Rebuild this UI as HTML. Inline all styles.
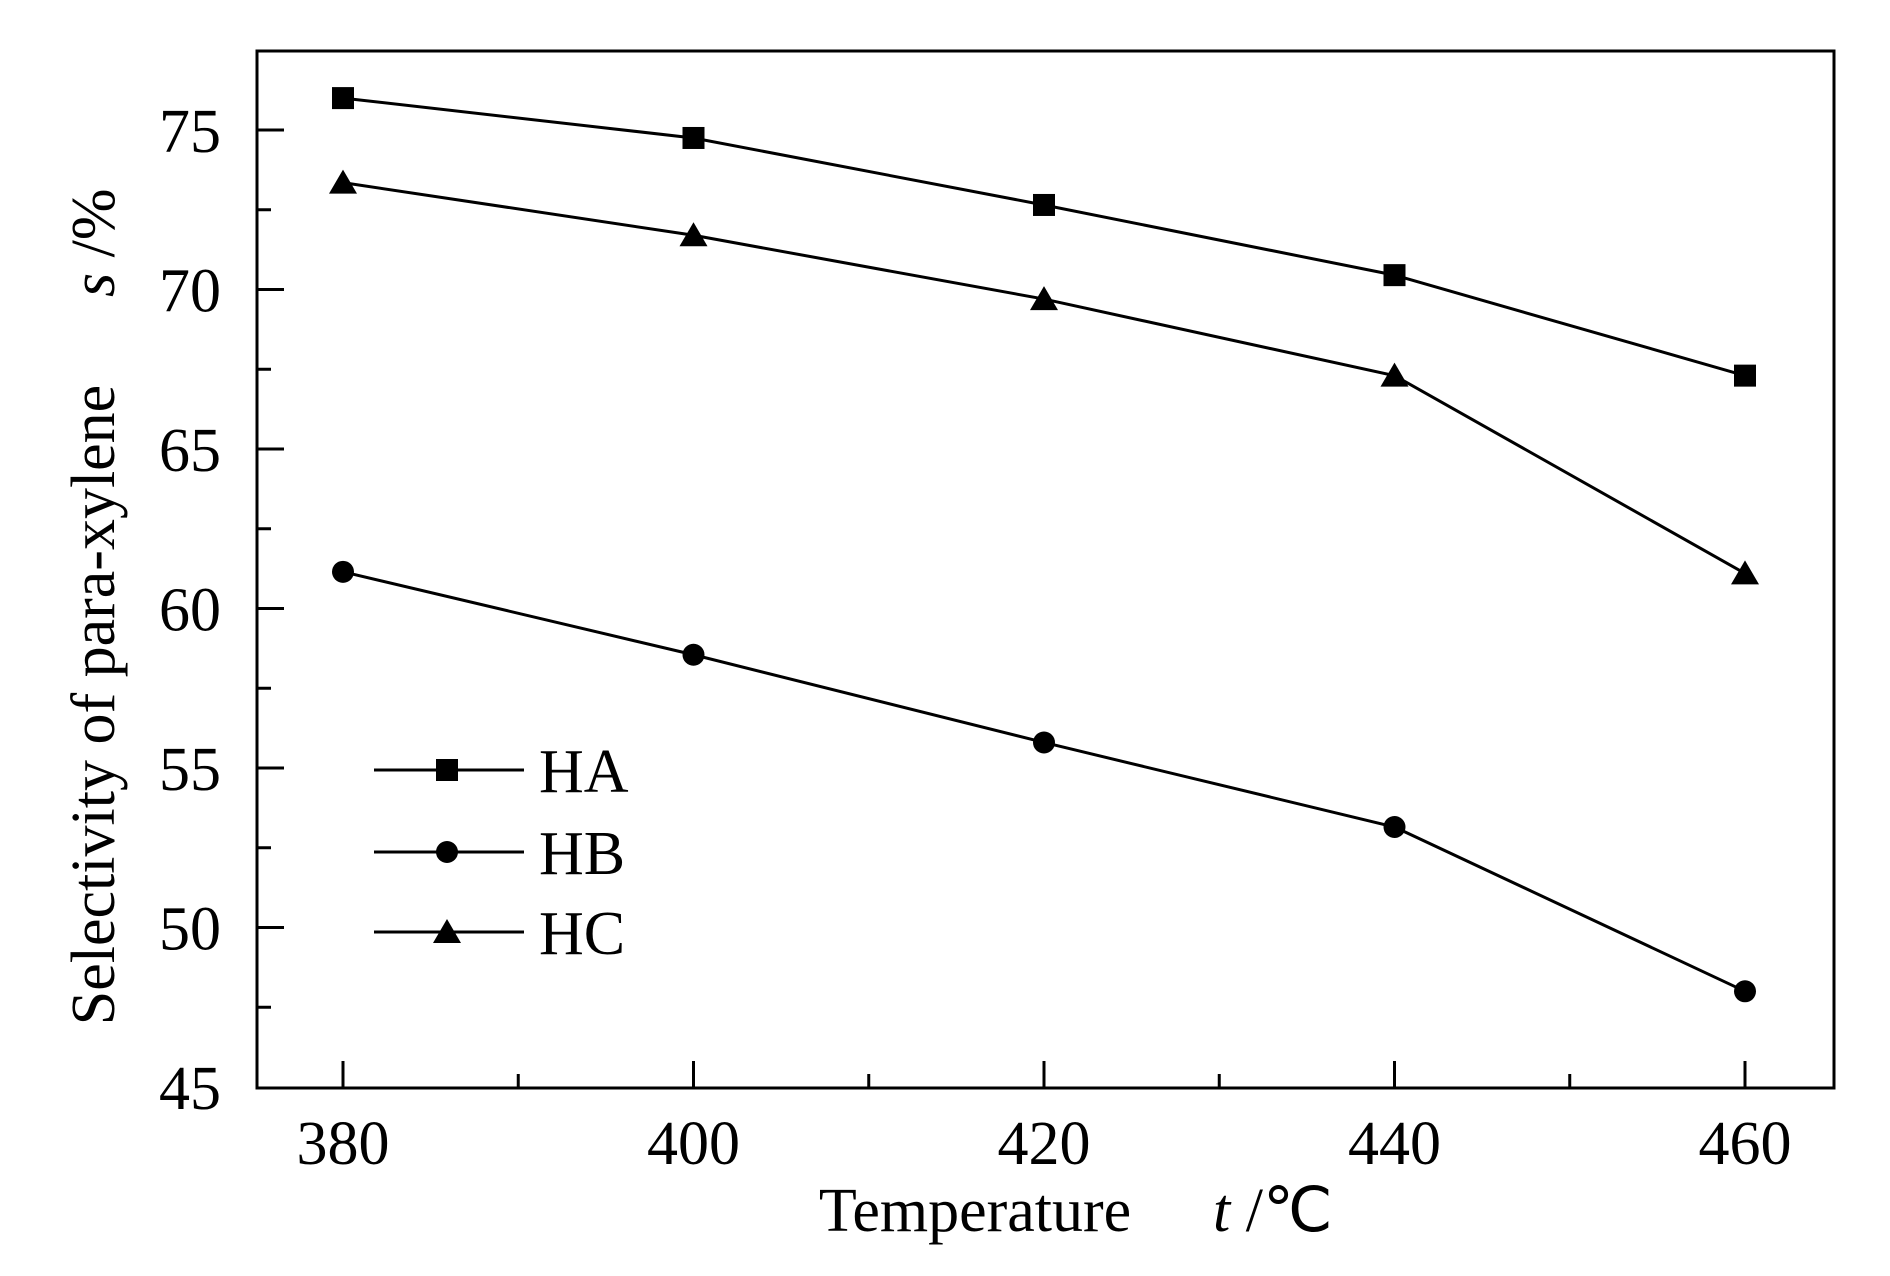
<!DOCTYPE html>
<html><head><meta charset="utf-8"><style>
html,body{margin:0;padding:0;background:#fff;}
svg{display:block;font-family:"Liberation Serif",serif;}
</style></head><body>
<svg id="chart" width="1890" height="1276" viewBox="0 0 1890 1276" xmlns="http://www.w3.org/2000/svg">
<rect x="257" y="51" width="1577" height="1037" fill="none" stroke="#000" stroke-width="3"/>
<g id="ticks"></g><g id="series"></g><g id="legend"></g>
<text x="975" y="1231" font-size="62" text-anchor="middle">Temperature</text>
<text x="1213" y="1231" font-size="62"><tspan font-style="italic">t</tspan> /℃</text>
<text transform="translate(114,705) rotate(-90)" font-size="62" text-anchor="middle">Selectivity of para-xylene</text>
<text transform="translate(114,297) rotate(-90)" font-size="62"><tspan font-style="italic">s</tspan> /%</text>
</svg>
<script>
const temps=[380,400,420,440,460];
const haValues=[76.0,74.75,72.65,70.45,67.3];
const hbValues=[61.15,58.55,55.8,53.15,48.0];
const hcValues=[73.35,71.7,69.7,67.3,61.1];
const xTickLabels=[380,400,420,440,460];
const yTickLabels=[45,50,55,60,65,70,75];
const seriesNames=["HA","HB","HC"];
const NS="http://www.w3.org/2000/svg";
function X(t){return 343+(t-380)*17.525;}
function Y(v){return 130+(75-v)*31.9;}
function mk(tag,attrs,parent){const e=document.createElementNS(NS,tag);for(const k in attrs)e.setAttribute(k,attrs[k]);parent.appendChild(e);return e;}
const ticks=document.getElementById('ticks');
const B=1088,L=257;
for(let t=380;t<=460;t+=10){const major=(t%20===0);
 const l=mk('line',{x1:X(t),x2:X(t),y1:B,y2:B-(major?27:14),stroke:'#000','stroke-width':3},ticks);
 
 }
xTickLabels.forEach(t=>{const e=mk('text',{x:X(t),y:1164,'font-size':62,'text-anchor':'middle'},ticks);e.textContent=t;
 
 });
for(let v=47.5;v<=77;v+=2.5){const major=(v%5===0);
 const l=mk('line',{x1:L,x2:L+(major?27:14),y1:Y(v),y2:Y(v),stroke:'#000','stroke-width':3},ticks);
 
 }
yTickLabels.forEach(v=>{const e=mk('text',{x:221,y:Y(v)+22,'font-size':62,'text-anchor':'end'},ticks);e.textContent=v;
 
 });
function marker(type,cx,cy,g){
 if(type==='square')return mk('rect',{x:cx-11,y:cy-11,width:22,height:22,fill:'#000'},g);
 if(type==='circle')return mk('circle',{cx:cx,cy:cy,r:11,fill:'#000'},g);
 return mk('polygon',{points:`${cx},${cy-13} ${cx-14},${cy+11} ${cx+14},${cy+11}`,fill:'#000'},g);}
const sg=document.getElementById('series');
const allVals=[haValues,hbValues,hcValues];const types=['square','circle','triangle'];
allVals.forEach((vals,i)=>{
 const g=mk('g',{},sg);
 
 
 const p=mk('polyline',{points:temps.map((t,j)=>X(t)+','+Y(vals[j])).join(' '),fill:'none',stroke:'#000','stroke-width':3},g);
 
 
 temps.forEach((t,j)=>{const m=marker(types[i],X(t),Y(vals[j]),g);
  
  });
});
const lg=document.getElementById('legend');
const ly=[770,852,932];
seriesNames.forEach((n,i)=>{
 const g=mk('g',{},lg);
 
 
 mk('line',{x1:374,x2:524,y1:ly[i],y2:ly[i],stroke:'#000','stroke-width':3},g);
 marker(types[i],447,ly[i],g);
 const t=mk('text',{x:539,y:ly[i]+22,'font-size':62},g);t.textContent=n;
});
</script>
</body></html>
